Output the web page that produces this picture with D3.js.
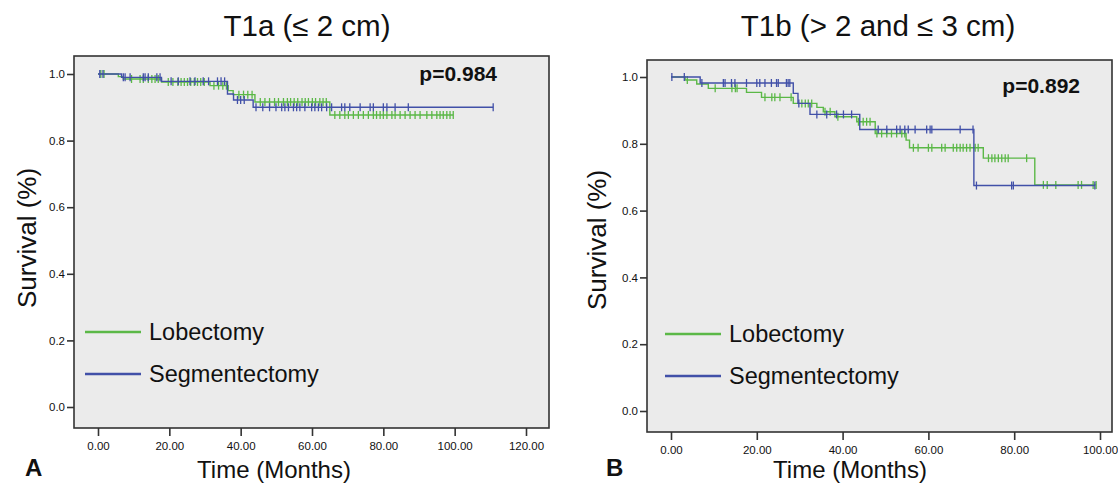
<!DOCTYPE html>
<html>
<head>
<meta charset="utf-8" />
<title>km</title>
<script src="https://cdn.jsdelivr.net/npm/d3@7"></script>
<style>
  body { margin: 0; background: #fff; }
  text { font-family: "Liberation Sans", Arial, sans-serif; fill: #111; }
</style>
</head>
<body>
<svg width="1118" height="485"></svg>
<script>
// series names + colours
var groups = ["Lobectomy", "Segmentectomy"];
var colors = ["#5bb847", "#4150a8"];

// panel A (T1a) - steps are [time, survival after the drop]
var aLobSteps = [[0,1.0],[5.7,0.992],[7.1,0.985],[17.8,0.976],[31.4,0.965],[36.5,0.95],[37.9,0.938],[44,0.916],[65,0.877]];
var aLobCens = [0.8,1.7,9.4,11.8,12.7,14.1,15.1,16.0,16.9,19.7,21.0,22.4,23.3,24.2,25.1,26.0,27.0,27.9,28.8,29.8,
  32.5,33.8,35.0,36.0,39.5,40.8,42.0,43.2,45.5,46.8,48.1,49.5,50.6,52.0,53.1,54.0,55.0,56.0,57.2,58.1,59.0,60.1,61.0,62.2,63.1,64.0,
  66.4,67.8,69.2,70.2,71.6,73.0,74.4,75.8,77.2,78.1,79.1,80.0,81.0,82.4,83.3,84.7,86.1,87.5,88.9,90.3,92.2,93.6,95.0,95.9,96.8,97.8,98.7,99.6];
var aSegSteps = [[0,1.0],[6.6,0.99],[17.8,0.978],[36.3,0.94],[38,0.922],[43.5,0.90]];
var aSegCens = [0.5,1.4,7.1,7.6,9.0,12.7,13.2,14.1,16.5,17.4,20.5,22.5,25.8,27.2,29.5,31.0,33.5,34.5,35.5,
  39.1,40.0,41.0,44.3,46.2,48.1,49.9,51.5,52.4,53.4,54.8,55.7,56.6,58.0,59.9,60.8,61.8,62.7,64.1,65.5,68.3,69.2,70.6,
  73.5,76.3,77.2,80.0,81.0,83.3,87.0,110.8];

// panel B (T1b)
var bLobSteps = [[0,1.0],[3.3,0.991],[6.0,0.979],[8.7,0.966],[17.6,0.954],[21.1,0.939],[28.5,0.921],[34,0.909],[35.5,0.896],
  [38.2,0.881],[43.3,0.866],[47.6,0.831],[54.8,0.811],[55.6,0.788],[72.8,0.757],[84.8,0.677]];
var bLobCens = [3.8,10.3,14.2,15.0,15.4,21.9,23.5,24.2,25.4,28.0,30.5,31.3,32.0,32.8,35.9,37.1,38.9,43.7,44.8,45.6,46.4,
  48.0,49.1,50.3,51.4,52.6,53.8,54.5,56.5,57.6,60.0,60.8,63.1,63.9,65.8,66.6,67.4,68.1,68.9,69.7,70.9,71.6,
  74.0,74.8,75.5,76.3,77.1,77.9,78.6,82.9,86.8,87.7,89.7,94.9,95.7,98.4,99.1];
var bSegSteps = [[0,1.0],[6.8,0.982],[28.5,0.951],[29.6,0.921],[32.4,0.888],[44,0.843],[70.6,0.675]];
var bSegCens = [0.2,3.1,7.2,12.2,12.6,14.1,14.9,17.6,20.0,20.7,21.9,23.4,24.6,25.0,26.9,27.3,27.7,29.8,34.0,36.3,38.6,40.2,42.1,
  48.3,50.3,52.6,53.4,54.5,55.3,56.9,59.6,60.4,60.8,67.4,70.4,71.2,79.4,79.8,98.8];

var titles = ["T1a (\u2264 2 cm)", "T1b (> 2 and \u2264 3 cm)"];
var pValues = ["p=0.984", "p=0.892"];
var panelLetters = ["A", "B"];
var yTicks = [0, 0.2, 0.4, 0.6, 0.8, 1.0];
var xTicksA = [0, 20, 40, 60, 80, 100, 120];
var xTicksB = [0, 20, 40, 60, 80, 100];

var svg = d3.select("svg");

var panels = [
  {box: [74, 56, 549, 428], xd: [0, 120], xr: [98, 526], yr: [407, 74], xt: xTicksA,
   series: [[aLobSteps, aLobCens], [aSegSteps, aSegCens]],
   titleX: 307, yTitleX: 36, yTitleY: 238, xTitleX: 274, letterX: 25,
   legX: 85, legY: 332, pX: 497, pY: 81},
  {box: [647, 60, 1112, 432], xd: [0, 100], xr: [671, 1100], yr: [411, 77], xt: xTicksB,
   series: [[bLobSteps, bLobCens], [bSegSteps, bSegCens]],
   titleX: 878, yTitleX: 606, yTitleY: 240, xTitleX: 850, letterX: 606,
   legX: 665, legY: 334, pX: 1080, pY: 93}
];

// survival at time t from a step list
function survAt(steps, t) {
  var s = steps[0][1];
  steps.forEach(function(d){ if (d[0] <= t) s = d[1]; });
  return s;
}

panels.forEach(function(p, i) {
  var x = d3.scaleLinear().domain(p.xd).range(p.xr);
  var y = d3.scaleLinear().domain([0, 1]).range(p.yr);
  var g = svg.append("g");

  g.append("rect")
    .attr("x", p.box[0]).attr("y", p.box[1])
    .attr("width", p.box[2] - p.box[0]).attr("height", p.box[3] - p.box[1])
    .attr("fill", "#ebebeb").attr("stroke", "#333").attr("stroke-width", 1.6);

  // axes
  var ya = g.append("g").attr("transform", "translate(" + p.box[0] + ",0)")
    .call(d3.axisLeft(y).tickValues(yTicks).tickFormat(d3.format(".1f")).tickSize(7).tickPadding(2));
  var xa = g.append("g").attr("transform", "translate(0," + p.box[3] + ")")
    .call(d3.axisBottom(x).tickValues(p.xt).tickFormat(d3.format(".2f")).tickSize(8).tickPadding(6));
  [ya, xa].forEach(function(a){
    a.select(".domain").remove();
    a.selectAll("line").attr("stroke", "#333").attr("stroke-width", 1.6);
    a.selectAll("text").style("font-size", "11.5px").attr("fill", "#222")
      .style("font-family", "'Liberation Sans', Arial, sans-serif");
  });

  // curves
  var line = d3.line().curve(d3.curveStepAfter)
    .x(function(d){ return x(d[0]); }).y(function(d){ return y(d[1]); });
  p.series.forEach(function(s, k) {
    var steps = s[0], cens = s[1];
    var end = d3.max(cens.concat(steps.map(function(d){ return d[0]; })));
    var pts = steps.concat([[end, steps[steps.length - 1][1]]]);
    g.append("path").attr("d", line(pts))
      .attr("fill", "none").attr("stroke", colors[k]).attr("stroke-width", 1.4);
    g.selectAll(null).data(cens).enter().append("line")
      .attr("x1", function(d){ return x(d); }).attr("x2", function(d){ return x(d); })
      .attr("y1", function(d){ return y(survAt(steps, d)) - 4; })
      .attr("y2", function(d){ return y(survAt(steps, d)) + 4; })
      .attr("stroke", colors[k]).attr("stroke-width", 1.3);
  });

  // legend
  groups.forEach(function(name, k) {
    var ly = p.legY + k * 42;
    g.append("line").attr("x1", p.legX).attr("x2", p.legX + 56)
      .attr("y1", ly).attr("y2", ly).attr("stroke", colors[k]).attr("stroke-width", 2.6);
    g.append("text").attr("x", p.legX + 64).attr("y", ly + 8)
      .style("font-size", "23.5px").text(name);
  });

  // texts
  g.append("text").attr("x", p.titleX).attr("y", 36).attr("text-anchor", "middle")
    .style("font-size", "29.5px").text(titles[i]);
  g.append("text").attr("x", p.pX).attr("y", p.pY).attr("text-anchor", "end")
    .style("font-size", "21px").style("font-weight", "bold").text(pValues[i]);
  g.append("text").attr("transform", "translate(" + p.yTitleX + "," + p.yTitleY + ") rotate(-90)")
    .attr("text-anchor", "middle").style("font-size", "26px").text("Survival (%)");
  g.append("text").attr("x", p.xTitleX).attr("y", 478).attr("text-anchor", "middle")
    .style("font-size", "24px").text("Time (Months)");
  g.append("text").attr("x", p.letterX).attr("y", 476)
    .style("font-size", "24px").style("font-weight", "bold").text(panelLetters[i]);
});
</script>
</body>
</html>
